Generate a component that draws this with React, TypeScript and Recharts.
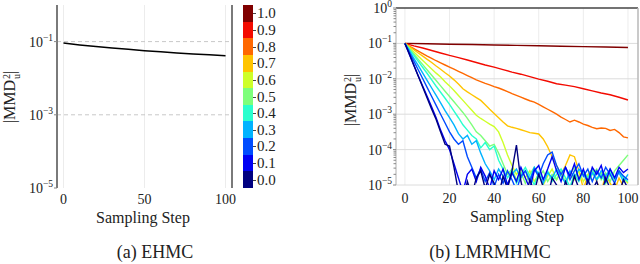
import { LineChart, Line, XAxis, YAxis, ReferenceLine } from 'recharts';

/* ------------------------------------------------------------------ */
/*  MMD^2_u vs sampling step: EHMC (left) and LMRMHMC (right)         */
/* ------------------------------------------------------------------ */

const FONT = '"Liberation Serif", "DejaVu Serif", serif';

// x positions (sampling step)
const STEPS_10 = [0, 10, 20, 30, 40, 50, 60, 70, 80, 90, 100];
const STEPS_4 = [0, 4, 8, 12, 16, 20, 24, 28, 32, 36, 40, 44, 48, 52, 56, 60, 64, 68, 72, 76, 80, 84, 88, 92, 96, 100];
const STEPS_2 = [
  0, 2, 4, 6, 8, 10, 12, 14, 16, 18, 20, 22, 24, 26, 28, 30, 32, 34, 36, 38, 40, 42, 44, 46, 48, 50,
  52, 54, 56, 58, 60, 62, 64, 66, 68, 70, 72, 74, 76, 78, 80, 82, 84, 86, 88, 90, 92, 94, 96, 98, 100,
];

// axis ticks
const X_TICKS_LEFT = [0, 50, 100];
const X_TICKS_RIGHT = [0, 20, 40, 60, 80, 100];
const Y_TICKS_LEFT = [1e-5, 1e-3, 1e-1];
const Y_TICKS_RIGHT = [1e-5, 1e-4, 1e-3, 1e-2, 1e-1, 1];
const MINOR_MULT = [2, 3, 4, 5, 6, 7, 8, 9];

// colour bar levels (top to bottom) and jet colours
const LEVELS = ['1.0', '0.9', '0.8', '0.7', '0.6', '0.5', '0.4', '0.3', '0.2', '0.1', '0.0'];
const JET = ['#800000', '#f30a00', '#ff6800', '#ffc400', '#ceff29', '#7dff7a', '#29ffce', '#00b3ff', '#004cff', '#0000f3', '#000080'];

// log10 of |MMD^2_u|
const EHMC_LOG = [-1.04, -1.09, -1.135, -1.175, -1.212, -1.247, -1.28, -1.31, -1.337, -1.362, -1.384];

const LMR_10 = [-1.0, -1.01, -1.022, -1.033, -1.045, -1.057, -1.068, -1.08, -1.092, -1.103, -1.115];
const LMR_09 = [
  -1.0, -1.07, -1.13, -1.2, -1.27, -1.34, -1.4, -1.47, -1.54, -1.61, -1.67, -1.74, -1.81,
  -1.87, -1.94, -2.01, -2.07, -2.14, -2.18, -2.22, -2.28, -2.34, -2.4, -2.45, -2.52, -2.6,
];
const LMR_08 = [
  -1.0, -1.08, -1.15, -1.22, -1.29, -1.36, -1.42, -1.49, -1.55, -1.61, -1.67, -1.73, -1.79, -1.85, -1.91, -1.97, -2.03,
  -2.08, -2.13, -2.17, -2.22, -2.26, -2.31, -2.36, -2.42, -2.47, -2.52, -2.57, -2.62, -2.66, -2.72, -2.79, -2.86, -2.93,
  -3.0, -3.08, -3.15, -3.22, -3.17, -3.22, -3.28, -3.32, -3.37, -3.41, -3.39, -3.4, -3.46, -3.43, -3.52, -3.64, -3.67,
];
const LMR_07 = [
  -1.0, -1.09, -1.18, -1.27, -1.36, -1.45, -1.54, -1.64, -1.73, -1.83, -1.92, -2.03, -2.15, -2.28, -2.37, -2.45, -2.53,
  -2.61, -2.73, -2.86, -2.98, -3.1, -3.22, -3.33, -3.37, -3.4, -3.44, -3.48, -3.52, -3.54, -3.56, -3.7, -3.92, -4.2,
  -4.45, -4.7, -4.45, -4.15, -4.2, -4.6, -5.1, -4.75, -4.55, -4.9, -5.2, -4.7, -4.95, -5.15, -4.8, -5.05, -5.2,
];
const LMR_06 = [
  -1.0, -1.12, -1.24, -1.36, -1.48, -1.6, -1.72, -1.84, -1.95, -2.08, -2.2, -2.33, -2.47, -2.61, -2.75, -2.89, -3.03,
  -3.12, -3.2, -3.28, -3.35, -3.5, -3.8, -4.15, -4.45, -4.7, -4.55, -4.8, -4.6, -4.9, -4.7, -5.0, -4.75, -4.55,
  -4.85, -4.65, -4.95, -4.7, -4.85, -4.6, -4.9, -4.7, -4.55, -4.85, -4.65, -4.95, -4.7, -4.85, -4.6, -4.8, -4.95,
];
const LMR_05 = [
  -1.0, -1.15, -1.3, -1.45, -1.6, -1.75, -1.9, -2.05, -2.2, -2.35, -2.5, -2.65, -2.8, -2.95, -3.12, -3.3, -3.5,
  -3.6, -3.75, -3.9, -3.85, -4.1, -4.4, -4.7, -4.55, -4.85, -4.65, -4.95, -4.7, -4.5, -4.8, -4.6, -4.9, -4.7,
  -4.85, -4.6, -4.95, -4.7, -4.5, -4.8, -4.65, -4.95, -4.7, -4.55, -4.85, -4.65, -4.9, -4.6, -4.45, -4.3, -4.15,
];
const LMR_04 = [
  -1.0, -1.17, -1.34, -1.51, -1.68, -1.85, -2.03, -2.21, -2.38, -2.55, -2.72, -2.91, -3.1, -3.3, -3.45, -3.6, -3.7,
  -3.95, -3.8, -4.0, -3.9, -4.3, -4.55, -4.8, -4.6, -4.95, -4.7, -4.5, -4.75, -5.0, -4.65, -4.85, -4.6, -4.9,
  -4.7, -4.55, -4.8, -5.05, -4.7, -4.9, -4.6, -4.8, -4.55, -4.85, -4.7, -4.95, -4.65, -4.85, -4.6, -4.8, -4.9,
];
const LMR_03 = [
  -1.0, -1.21, -1.42, -1.63, -1.84, -2.05, -2.26, -2.47, -2.68, -2.9, -3.1, -3.3, -3.55, -3.7, -3.6, -3.85, -3.75,
  -4.1, -4.4, -4.6, -4.85, -4.55, -4.75, -5.0, -4.7, -4.55, -4.8, -4.6, -4.85, -4.5, -4.7, -4.95, -4.65, -4.8,
  -4.55, -4.75, -4.95, -4.6, -4.8, -4.55, -4.7, -4.9, -4.65, -4.85, -4.6, -4.75, -4.55, -4.8, -4.65, -4.9, -4.7,
];
const LMR_02 = [
  -1.0, -1.25, -1.5, -1.75, -2.0, -2.25, -2.5, -2.75, -3.0, -3.25, -3.5, -3.7, -3.85, -3.75, -4.2, -4.5, -4.8,
  -4.55, -4.9, -4.65, -5.05, -4.7, -4.95, -4.6, -4.85, -5.15, -4.75, -4.6, -4.9, -4.55, -4.75, -4.4, -4.15, -4.07,
  -4.45, -4.7, -4.5, -4.85, -4.6, -4.4, -4.75, -4.55, -4.9, -4.6, -4.8, -4.5, -4.7, -4.95, -4.6, -4.75, -4.85,
];
const LMR_01 = [
  -1.0, -1.31, -1.62, -1.92, -2.21, -2.5, -2.8, -3.1, -3.45, -3.75, -4.0, -4.4, -4.8, -5.2, -4.7, -4.55, -4.9,
  -4.5, -4.75, -5.1, -4.6, -4.85, -4.55, -5.0, -4.65, -4.9, -4.5, -4.8, -5.1, -4.6, -4.45, -4.85, -4.55, -4.2,
  -4.6, -4.9, -4.5, -4.75, -4.4, -4.85, -4.55, -4.95, -4.5, -4.7, -4.45, -4.9, -4.55, -4.8, -4.5, -4.65, -4.55,
];
const LMR_00 = [
  -1.0, -1.3, -1.62, -1.93, -2.24, -2.55, -2.86, -3.15, -3.5, -3.85, -3.9, -4.5, -5.2, -5.5, -4.9, -5.3, -4.8,
  -4.6, -5.1, -4.7, -4.95, -5.3, -4.75, -5.1, -4.6, -3.87, -4.9, -5.4, -4.85, -5.2, -4.7, -5.05, -5.35, -4.8,
  -5.0, -5.4, -4.9, -5.2, -4.75, -5.1, -5.35, -4.85, -5.15, -4.9, -5.3, -4.8, -5.1, -4.95, -5.25, -4.85, -5.1,
];

const toPoints = (steps: number[], logs: number[]) =>
  steps.map((step, i) => ({ step, mmd: Math.pow(10, logs[i]) }));

const ehmcData = toPoints(STEPS_10, EHMC_LOG);

// drawn 1.0 first so the low-level (blue) curves sit on top
const lmrSeries = [
  { level: '1.0', color: JET[0], data: toPoints(STEPS_10, LMR_10) },
  { level: '0.9', color: JET[1], data: toPoints(STEPS_4, LMR_09) },
  { level: '0.8', color: JET[2], data: toPoints(STEPS_2, LMR_08) },
  { level: '0.7', color: JET[3], data: toPoints(STEPS_2, LMR_07) },
  { level: '0.6', color: JET[4], data: toPoints(STEPS_2, LMR_06) },
  { level: '0.5', color: JET[5], data: toPoints(STEPS_2, LMR_05) },
  { level: '0.4', color: JET[6], data: toPoints(STEPS_2, LMR_04) },
  { level: '0.3', color: JET[7], data: toPoints(STEPS_2, LMR_03) },
  { level: '0.2', color: JET[8], data: toPoints(STEPS_2, LMR_02) },
  { level: '0.1', color: JET[9], data: toPoints(STEPS_2, LMR_01) },
  { level: '0.0', color: JET[10], data: toPoints(STEPS_2, LMR_00) },
];

const minorTicks = Y_TICKS_RIGHT.slice(0, -1).flatMap((t) => MINOR_MULT.map((m) => t * m));
const rightYTicks = [...Y_TICKS_RIGHT, ...minorTicks];

/* ---- tick renderers ---- */
function LogTick({ x, y, payload }: any) {
  const v = payload.value as number;
  const exp = Math.log10(v);
  const major = Math.abs(exp - Math.round(exp)) < 1e-6;
  if (!major) {
    return <line x1={x} x2={x - 2.5} y1={y} y2={y} stroke="#888" strokeWidth={1} />;
  }
  const e = Math.round(exp);
  return (
    <g>
      <line x1={x} x2={x - 3} y1={y} y2={y} stroke="#888" strokeWidth={1} />
      <text x={x - 4} y={y + 5} textAnchor="end" fontFamily={FONT} fill="#222">
        <tspan fontSize={14}>10</tspan>
        <tspan fontSize={9.5} dy={-6}>{e === 0 ? '0' : `\u2212${-e}`}</tspan>
      </text>
    </g>
  );
}

function StepTick({ x, y, payload }: any) {
  return (
    <text x={x} y={y} dy="0.71em" textAnchor="middle" fontFamily={FONT} fontSize={14} fill="#222">
      {payload.value}
    </text>
  );
}

function MmdLabel({ left, top }: { left: number; top: number }) {
  return (
    <div
      style={{
        position: 'absolute',
        left,
        top,
        transform: 'translate(-50%, -50%) rotate(-90deg)',
        fontSize: 16,
        whiteSpace: 'nowrap',
        color: '#222',
        lineHeight: 1,
      }}
    >
      |MMD
      <span
        style={{
          display: 'inline-flex',
          flexDirection: 'column',
          verticalAlign: 'middle',
          fontSize: 10,
          lineHeight: 0.95,
          marginLeft: 1,
        }}
      >
        <span>2</span>
        <span>u</span>
      </span>
      |
    </div>
  );
}

function Text({ x, y, size, children }: { x: number; y: number; size: number; children: React.ReactNode }) {
  return (
    <div
      style={{
        position: 'absolute',
        left: x,
        top: y,
        transform: 'translate(-50%, -50%)',
        fontSize: size,
        whiteSpace: 'nowrap',
        color: '#222',
      }}
    >
      {children}
    </div>
  );
}

function ColorBar() {
  const bandH = 183 / LEVELS.length;
  return (
    <>
      <div style={{ position: 'absolute', left: 243, top: 5, width: 10, height: 183, display: 'flex', flexDirection: 'column' }}>
        {LEVELS.map((lv, i) => (
          <div key={lv} style={{ flex: 1, background: JET[i] }} />
        ))}
      </div>
      {LEVELS.map((lv, i) => (
        <div key={`t-${lv}`}>
          <div style={{ position: 'absolute', left: 253, top: 5 + bandH * (i + 0.5), width: 3, height: 1, background: '#444' }} />
          <div
            style={{
              position: 'absolute',
              left: 257,
              top: 5 + bandH * (i + 0.5),
              transform: 'translateY(-50%)',
              fontSize: 15,
              lineHeight: 1,
              color: '#222',
            }}
          >
            {lv}
          </div>
        </div>
      ))}
    </>
  );
}

export default function App() {
  return (
    <div
      style={{
        position: 'fixed',
        left: 0,
        top: 0,
        width: 640,
        height: 264,
        background: '#fff',
        fontFamily: FONT,
        overflow: 'hidden',
      }}
    >
      {/* (a) EHMC */}
      <div style={{ position: 'absolute', left: 0, top: 0 }}>
        <LineChart width={240} height={215} margin={{ top: 5, right: 8, bottom: 0, left: 0 }}>
          <XAxis
            dataKey="step"
            type="number"
            domain={[-4, 104]}
            ticks={X_TICKS_LEFT}
            allowDataOverflow
            axisLine={false}
            tickLine={false}
            tickSize={0}
            tickMargin={6}
            height={27}
            tick={<StepTick />}
          />
          <YAxis
            scale="log"
            domain={[1e-5, 1]}
            ticks={Y_TICKS_LEFT}
            interval={0}
            allowDataOverflow
            width={57}
            axisLine={{ stroke: '#7a7a7a', strokeWidth: 2 }}
            tickLine={false}
            tickSize={0}
            tickMargin={0}
            tick={<LogTick />}
          />
          {X_TICKS_LEFT.map((t) => (
            <ReferenceLine key={`gx${t}`} x={t} stroke="#ececec" strokeWidth={1} />
          ))}
          {[1e-1, 1e-3].map((t) => (
            <ReferenceLine key={`gy${t}`} y={t} stroke="#c8c8c8" strokeDasharray="4 3" strokeWidth={1} />
          ))}
          <Line
            data={ehmcData}
            dataKey="mmd"
            stroke="#000"
            strokeWidth={1.5}
            dot={false}
            isAnimationActive={false}
          />
          <ReferenceLine x={104} stroke="#7a7a7a" strokeWidth={2} />
        </LineChart>
      </div>
      <MmdLabel left={11} top={97} />
      <Text x={143} y={218} size={16}>Sampling Step</Text>
      <Text x={155} y={252} size={18}>(a) EHMC</Text>
      <ColorBar />

      {/* (b) LMRMHMC */}
      <div style={{ position: 'absolute', left: 320, top: 0 }}>
        <LineChart width={320} height={212} margin={{ top: 8, right: 2, bottom: 0, left: 0 }}>
          <XAxis
            dataKey="step"
            type="number"
            domain={[-4, 104.5]}
            ticks={X_TICKS_RIGHT}
            allowDataOverflow
            axisLine={false}
            tickLine={false}
            tickSize={0}
            tickMargin={8}
            height={27}
            tick={<StepTick />}
          />
          <YAxis
            scale="log"
            domain={[1e-5, 1]}
            ticks={rightYTicks}
            interval={0}
            allowDataOverflow
            width={76}
            axisLine={{ stroke: '#b0b0b0', strokeWidth: 1 }}
            tickLine={false}
            tickSize={0}
            tickMargin={0}
            tick={<LogTick />}
          />
          {X_TICKS_RIGHT.map((t) => (
            <ReferenceLine key={`gx${t}`} x={t} stroke="#ececec" strokeWidth={1} />
          ))}
          {Y_TICKS_RIGHT.map((t) => (
            <ReferenceLine key={`gy${t}`} y={t} stroke="#dcdcdc" strokeWidth={1} />
          ))}
          {lmrSeries.map((s) => (
            <Line
              key={s.level}
              data={s.data}
              dataKey="mmd"
              stroke={s.color}
              strokeWidth={1.4}
              dot={false}
              isAnimationActive={false}
            />
          ))}
          <ReferenceLine y={1} stroke="#4a4a4a" strokeWidth={1.5} />
          <ReferenceLine x={104.5} stroke="#b8b8b8" strokeWidth={1.5} />
        </LineChart>
      </div>
      <MmdLabel left={352} top={100} />
      <Text x={517} y={217} size={16}>Sampling Step</Text>
      <Text x={490} y={252} size={18}>(b) LMRMHMC</Text>
    </div>
  );
}
